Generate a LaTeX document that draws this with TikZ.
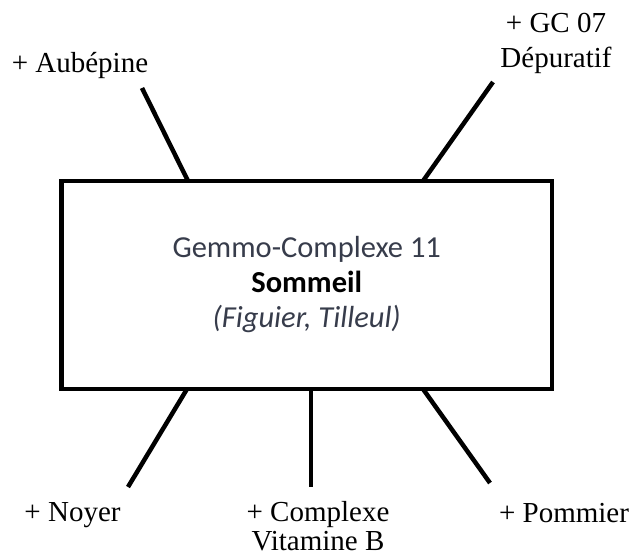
\documentclass[tikz,border=0pt]{standalone}
\usepackage{fontspec}
\setmainfont{Liberation Serif}
\newfontfamily\calibri{Carlito}
\definecolor{ardoise}{RGB}{55,60,75}

\tikzset{
  lien/.style={line width=4.5pt},
  etiquette/.style={font=\fontsize{29}{35}\selectfont, inner sep=0pt, align=center, anchor=base},
}

\begin{document}
\begin{tikzpicture}[x=1pt, y=-1pt]
\useasboundingbox (0,0) rectangle (631,556);

% Central box
\node[draw, line width=4.5pt, minimum width=490.5pt, minimum height=208pt,
      inner sep=0pt, outer sep=0pt, align=center,
      font=\calibri\fontsize{30.5}{35}\selectfont]
  (boite) at (306.75,285)
  {\textcolor{ardoise}{Gemmo-Complexe 11}\\
   \textbf{Sommeil}\\
   \textcolor{ardoise}{\itshape (Figuier, Tilleul)}};

% Free ends
\coordinate (aubepine-fin) at (142,88);
\coordinate (gc-fin) at (493,82);
\coordinate (noyer-fin) at (128,487);
\coordinate (vitb-fin) at (311,487);
\coordinate (pommier-fin) at (490,483);

% Connectors
\draw[lien] ([xshift=126.5pt]boite.north west) -- (aubepine-fin);
\draw[lien] ([xshift=361.5pt]boite.north west) -- (gc-fin);
\draw[lien] ([xshift=125.5pt]boite.south west) -- (noyer-fin);
\draw[lien] ([xshift=249.5pt]boite.south west) -- (vitb-fin);
\draw[lien] ([xshift=361.5pt]boite.south west) -- (pommier-fin);

% Labels
\node[etiquette] (aubepine) at (80,73) {+ Aubépine};
\node[etiquette] (gc) at (556,68) {+ GC 07\\Dépuratif};
\node[etiquette] (noyer) at (72.5,521) {+ Noyer};
\node[etiquette, font=\fontsize{29}{29}\selectfont] (vitb) at (318,550) {+ Complexe\\Vitamine B};
\node[etiquette] (pommier) at (564,522) {+ Pommier};

\end{tikzpicture}
\end{document}
